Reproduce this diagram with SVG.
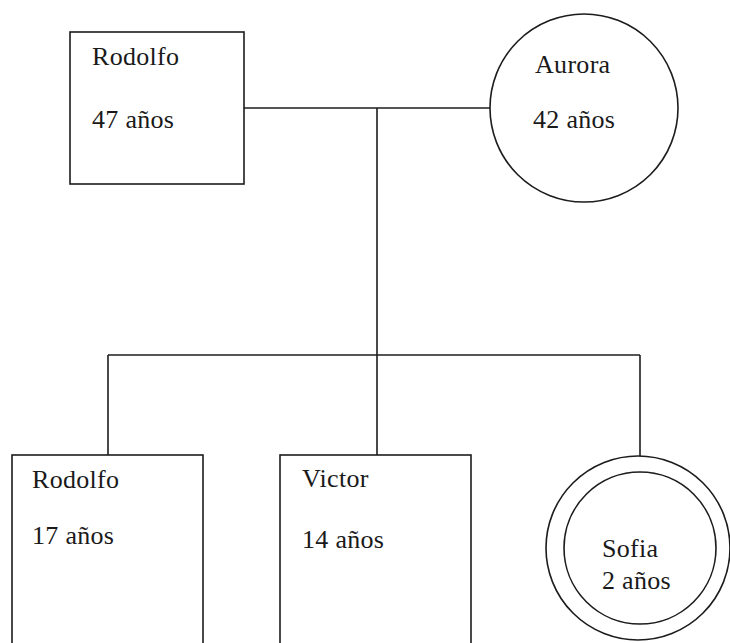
<svg xmlns="http://www.w3.org/2000/svg" width="730" height="643" viewBox="0 0 730 643">
<style>
.shape{fill:#ffffff;stroke:#1c1c1c;stroke-width:1.6}
.ln{stroke:#1c1c1c;stroke-width:1.6;fill:none}
.t{font-family:"Liberation Serif","Times New Roman",serif;font-size:26px;letter-spacing:0.3px;fill:#1a1a1a}
</style>
<rect width="730" height="643" fill="#ffffff"/>
<g id="connectors">
<line class="ln" x1="244" y1="108" x2="490" y2="108"/>
<line class="ln" x1="377" y1="108" x2="377" y2="355"/>
<line class="ln" x1="108" y1="355" x2="640" y2="355"/>
<line class="ln" x1="108" y1="355" x2="108" y2="455"/>
<line class="ln" x1="377" y1="355" x2="377" y2="455"/>
<line class="ln" x1="640" y1="355" x2="640" y2="456"/>
</g>
<g id="rodolfo-padre">
<rect class="shape" x="70" y="32" width="174" height="152"/>
<text class="t" x="92" y="65">Rodolfo</text>
<text class="t" x="92" y="128">47 años</text>
</g>
<g id="aurora">
<circle class="shape" cx="584" cy="108" r="94"/>
<text class="t" x="535" y="73">Aurora</text>
<text class="t" x="533" y="128">42 años</text>
</g>
<g id="rodolfo-hijo">
<rect class="shape" x="12" y="455" width="191" height="200"/>
<text class="t" x="32" y="488">Rodolfo</text>
<text class="t" x="32" y="544">17 años</text>
</g>
<g id="victor">
<rect class="shape" x="280" y="455" width="191" height="200"/>
<text class="t" x="302" y="487">Victor</text>
<text class="t" x="302" y="548">14 años</text>
</g>
<g id="sofia">
<circle class="shape" cx="638" cy="548" r="92"/>
<circle class="shape" cx="640" cy="548" r="76"/>
<text class="t" x="602" y="557">Sofia</text>
<text class="t" x="602" y="589">2 años</text>
</g>
</svg>
